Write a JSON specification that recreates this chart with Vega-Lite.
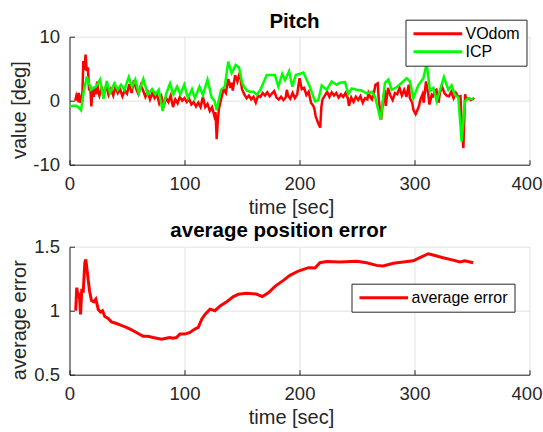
{
"$schema": "https://vega.github.io/schema/vega-lite/v6.json",
"background": "white",
"padding": {"left": 9.5, "top": 11.7, "right": 5, "bottom": 0},
"spacing": 3,
"resolve": {"scale": {"color": "independent"}, "legend": {"color": "independent"}},
"config": {
  "font": "Liberation Sans",
  "view": {"stroke": null},
  "axis": {
    "domainColor": "#262626", "domainWidth": 1,
    "tickColor": "#262626", "tickSize": -5, "tickWidth": 1,
    "labelFont": "Liberation Sans", "labelFontSize": 18.5, "labelColor": "#262626", "labelPadding": 15, "labelFlush": false,
    "titleFont": "Liberation Sans", "titleFontSize": 20, "titleColor": "#262626", "titleFontWeight": "normal",
    "gridColor": "#e2e2e2", "gridWidth": 1
  },
  "legend": {
    "labelFont": "Liberation Sans", "labelFontSize": 16, "labelColor": "#000000",
    "strokeColor": "#262626", "fillColor": "#ffffff", "padding": 6, "rowPadding": 2,
    "symbolType": "M-4,0H4", "symbolSize": 148, "symbolStrokeWidth": 3, "symbolOffset": 18.3, "labelOffset": 19.7, "cornerRadius": 0
  },
  "title": {"font": "Liberation Sans", "fontSize": 20.5, "fontWeight": "bold", "color": "#000000", "frame": "group", "anchor": "middle", "baseline": "alphabetic"}
},
"datasets": {
"pitch": [
{"t":5,"v":0.0,"s":"VOdom"},{"t":6,"v":0.8,"s":"VOdom"},{"t":7,"v":0.3,"s":"VOdom"},{"t":8,"v":1.2,"s":"VOdom"},{"t":9,"v":-0.3,"s":"VOdom"},{"t":10,"v":0.4,"s":"VOdom"},{"t":11,"v":-0.2,"s":"VOdom"},{"t":12,"v":6.2,"s":"VOdom"},{"t":13,"v":4.8,"s":"VOdom"},{"t":14,"v":7.2,"s":"VOdom"},{"t":15,"v":4.6,"s":"VOdom"},{"t":16,"v":5.2,"s":"VOdom"},{"t":17,"v":1.6,"s":"VOdom"},{"t":18,"v":2.4,"s":"VOdom"},{"t":19,"v":-0.9,"s":"VOdom"},{"t":20,"v":1.8,"s":"VOdom"},{"t":21,"v":0.6,"s":"VOdom"},{"t":22,"v":2.2,"s":"VOdom"},{"t":23,"v":1.0,"s":"VOdom"},{"t":24,"v":3.0,"s":"VOdom"},{"t":25,"v":1.4,"s":"VOdom"},{"t":26,"v":0.8,"s":"VOdom"},{"t":28,"v":2.0,"s":"VOdom"},{"t":30,"v":1.0,"s":"VOdom"},{"t":32,"v":2.4,"s":"VOdom"},{"t":34,"v":0.9,"s":"VOdom"},{"t":36,"v":1.8,"s":"VOdom"},{"t":38,"v":0.8,"s":"VOdom"},{"t":40,"v":2.2,"s":"VOdom"},{"t":42,"v":1.2,"s":"VOdom"},{"t":44,"v":1.8,"s":"VOdom"},{"t":46,"v":0.7,"s":"VOdom"},{"t":48,"v":1.6,"s":"VOdom"},{"t":50,"v":1.1,"s":"VOdom"},{"t":52,"v":2.6,"s":"VOdom"},{"t":54,"v":1.2,"s":"VOdom"},{"t":56,"v":3.2,"s":"VOdom"},{"t":58,"v":1.8,"s":"VOdom"},{"t":60,"v":1.0,"s":"VOdom"},{"t":62,"v":2.4,"s":"VOdom"},{"t":64,"v":1.6,"s":"VOdom"},{"t":66,"v":0.6,"s":"VOdom"},{"t":68,"v":1.4,"s":"VOdom"},{"t":70,"v":0.2,"s":"VOdom"},{"t":72,"v":1.2,"s":"VOdom"},{"t":74,"v":0.4,"s":"VOdom"},{"t":76,"v":1.0,"s":"VOdom"},{"t":78,"v":-0.4,"s":"VOdom"},{"t":80,"v":0.6,"s":"VOdom"},{"t":82,"v":-0.8,"s":"VOdom"},{"t":84,"v":0.4,"s":"VOdom"},{"t":86,"v":-0.2,"s":"VOdom"},{"t":88,"v":0.8,"s":"VOdom"},{"t":90,"v":-1.0,"s":"VOdom"},{"t":92,"v":0.2,"s":"VOdom"},{"t":94,"v":-0.4,"s":"VOdom"},{"t":96,"v":0.6,"s":"VOdom"},{"t":98,"v":0.0,"s":"VOdom"},{"t":100,"v":0.4,"s":"VOdom"},{"t":102,"v":-0.2,"s":"VOdom"},{"t":104,"v":0.3,"s":"VOdom"},{"t":106,"v":-0.6,"s":"VOdom"},{"t":108,"v":-0.2,"s":"VOdom"},{"t":110,"v":-0.9,"s":"VOdom"},{"t":112,"v":-0.3,"s":"VOdom"},{"t":114,"v":-1.0,"s":"VOdom"},{"t":116,"v":0.6,"s":"VOdom"},{"t":118,"v":-1.0,"s":"VOdom"},{"t":120,"v":-0.5,"s":"VOdom"},{"t":122,"v":-1.6,"s":"VOdom"},{"t":124,"v":-1.0,"s":"VOdom"},{"t":126,"v":-2.4,"s":"VOdom"},{"t":127,"v":-1.8,"s":"VOdom"},{"t":128,"v":-6.0,"s":"VOdom"},{"t":129,"v":-3.0,"s":"VOdom"},{"t":130,"v":-1.2,"s":"VOdom"},{"t":132,"v":0.4,"s":"VOdom"},{"t":134,"v":1.8,"s":"VOdom"},{"t":136,"v":1.2,"s":"VOdom"},{"t":138,"v":3.4,"s":"VOdom"},{"t":140,"v":2.0,"s":"VOdom"},{"t":141,"v":2.8,"s":"VOdom"},{"t":142,"v":1.6,"s":"VOdom"},{"t":144,"v":4.0,"s":"VOdom"},{"t":146,"v":3.0,"s":"VOdom"},{"t":148,"v":4.4,"s":"VOdom"},{"t":150,"v":1.8,"s":"VOdom"},{"t":152,"v":1.0,"s":"VOdom"},{"t":154,"v":0.4,"s":"VOdom"},{"t":156,"v":0.8,"s":"VOdom"},{"t":158,"v":0.2,"s":"VOdom"},{"t":160,"v":0.6,"s":"VOdom"},{"t":162,"v":-0.3,"s":"VOdom"},{"t":164,"v":0.8,"s":"VOdom"},{"t":166,"v":0.6,"s":"VOdom"},{"t":168,"v":1.2,"s":"VOdom"},{"t":170,"v":0.8,"s":"VOdom"},{"t":172,"v":1.3,"s":"VOdom"},{"t":174,"v":0.7,"s":"VOdom"},{"t":176,"v":1.1,"s":"VOdom"},{"t":178,"v":1.5,"s":"VOdom"},{"t":180,"v":0.5,"s":"VOdom"},{"t":182,"v":0.2,"s":"VOdom"},{"t":184,"v":0.6,"s":"VOdom"},{"t":186,"v":0.1,"s":"VOdom"},{"t":188,"v":0.5,"s":"VOdom"},{"t":189,"v":1.7,"s":"VOdom"},{"t":190,"v":0.8,"s":"VOdom"},{"t":192,"v":0.3,"s":"VOdom"},{"t":194,"v":1.2,"s":"VOdom"},{"t":196,"v":0.4,"s":"VOdom"},{"t":198,"v":1.0,"s":"VOdom"},{"t":200,"v":3.5,"s":"VOdom"},{"t":202,"v":1.8,"s":"VOdom"},{"t":204,"v":2.0,"s":"VOdom"},{"t":206,"v":0.9,"s":"VOdom"},{"t":208,"v":1.4,"s":"VOdom"},{"t":210,"v":-0.3,"s":"VOdom"},{"t":212,"v":-0.8,"s":"VOdom"},{"t":213,"v":-1.3,"s":"VOdom"},{"t":214,"v":-2.4,"s":"VOdom"},{"t":216,"v":-3.4,"s":"VOdom"},{"t":218,"v":-4.2,"s":"VOdom"},{"t":219,"v":-1.0,"s":"VOdom"},{"t":220,"v":0.2,"s":"VOdom"},{"t":222,"v":0.8,"s":"VOdom"},{"t":224,"v":1.4,"s":"VOdom"},{"t":226,"v":0.6,"s":"VOdom"},{"t":228,"v":1.3,"s":"VOdom"},{"t":230,"v":0.8,"s":"VOdom"},{"t":232,"v":1.2,"s":"VOdom"},{"t":234,"v":0.5,"s":"VOdom"},{"t":236,"v":1.0,"s":"VOdom"},{"t":238,"v":0.6,"s":"VOdom"},{"t":240,"v":1.2,"s":"VOdom"},{"t":242,"v":0.4,"s":"VOdom"},{"t":243,"v":-0.8,"s":"VOdom"},{"t":245,"v":0.5,"s":"VOdom"},{"t":247,"v":-0.2,"s":"VOdom"},{"t":249,"v":0.6,"s":"VOdom"},{"t":251,"v":0.1,"s":"VOdom"},{"t":253,"v":0.7,"s":"VOdom"},{"t":255,"v":-0.3,"s":"VOdom"},{"t":257,"v":0.4,"s":"VOdom"},{"t":259,"v":0.2,"s":"VOdom"},{"t":260,"v":1.2,"s":"VOdom"},{"t":262,"v":0.4,"s":"VOdom"},{"t":263,"v":0.2,"s":"VOdom"},{"t":265,"v":1.5,"s":"VOdom"},{"t":266,"v":2.5,"s":"VOdom"},{"t":268,"v":2.7,"s":"VOdom"},{"t":269,"v":0.0,"s":"VOdom"},{"t":271,"v":-3.0,"s":"VOdom"},{"t":272,"v":-1.0,"s":"VOdom"},{"t":274,"v":1.7,"s":"VOdom"},{"t":275,"v":-0.8,"s":"VOdom"},{"t":277,"v":2.0,"s":"VOdom"},{"t":279,"v":0.8,"s":"VOdom"},{"t":281,"v":0.1,"s":"VOdom"},{"t":283,"v":1.2,"s":"VOdom"},{"t":285,"v":1.0,"s":"VOdom"},{"t":287,"v":2.0,"s":"VOdom"},{"t":289,"v":0.8,"s":"VOdom"},{"t":291,"v":1.7,"s":"VOdom"},{"t":293,"v":0.6,"s":"VOdom"},{"t":295,"v":2.5,"s":"VOdom"},{"t":296,"v":0.4,"s":"VOdom"},{"t":298,"v":-0.3,"s":"VOdom"},{"t":299,"v":-1.4,"s":"VOdom"},{"t":301,"v":-2.1,"s":"VOdom"},{"t":302,"v":-1.7,"s":"VOdom"},{"t":304,"v":-0.8,"s":"VOdom"},{"t":305,"v":0.1,"s":"VOdom"},{"t":307,"v":1.0,"s":"VOdom"},{"t":308,"v":-0.3,"s":"VOdom"},{"t":310,"v":3.0,"s":"VOdom"},{"t":312,"v":1.0,"s":"VOdom"},{"t":313,"v":-0.6,"s":"VOdom"},{"t":315,"v":0.9,"s":"VOdom"},{"t":316,"v":0.7,"s":"VOdom"},{"t":318,"v":1.6,"s":"VOdom"},{"t":319,"v":1.7,"s":"VOdom"},{"t":321,"v":-0.3,"s":"VOdom"},{"t":322,"v":1.2,"s":"VOdom"},{"t":324,"v":2.2,"s":"VOdom"},{"t":326,"v":1.2,"s":"VOdom"},{"t":328,"v":0.8,"s":"VOdom"},{"t":330,"v":0.7,"s":"VOdom"},{"t":332,"v":1.4,"s":"VOdom"},{"t":334,"v":0.4,"s":"VOdom"},{"t":336,"v":1.2,"s":"VOdom"},{"t":338,"v":0.6,"s":"VOdom"},{"t":340,"v":0.7,"s":"VOdom"},{"t":341,"v":-3.5,"s":"VOdom"},{"t":342.5,"v":-7.4,"s":"VOdom"},{"t":344,"v":1.0,"s":"VOdom"},{"t":345,"v":0.2,"s":"VOdom"},{"t":347,"v":0.4,"s":"VOdom"},{"t":349,"v":0.1,"s":"VOdom"},{"t":351,"v":0.3,"s":"VOdom"},{"t":352,"v":0.2,"s":"VOdom"},
{"t":0,"v":-0.9,"s":"ICP"},{"t":3,"v":-0.8,"s":"ICP"},{"t":6,"v":-0.8,"s":"ICP"},{"t":8,"v":-1.1,"s":"ICP"},{"t":10,"v":-1.5,"s":"ICP"},{"t":12,"v":1.0,"s":"ICP"},{"t":15,"v":3.8,"s":"ICP"},{"t":18.7,"v":1.7,"s":"ICP"},{"t":21,"v":2.0,"s":"ICP"},{"t":23,"v":2.2,"s":"ICP"},{"t":26.5,"v":3.3,"s":"ICP"},{"t":29.5,"v":0.3,"s":"ICP"},{"t":32.3,"v":3.1,"s":"ICP"},{"t":35.2,"v":1.2,"s":"ICP"},{"t":39,"v":2.7,"s":"ICP"},{"t":41.9,"v":1.7,"s":"ICP"},{"t":44.8,"v":2.5,"s":"ICP"},{"t":47.7,"v":1.7,"s":"ICP"},{"t":51.5,"v":3.7,"s":"ICP"},{"t":54.4,"v":2.2,"s":"ICP"},{"t":57.2,"v":3.3,"s":"ICP"},{"t":60.2,"v":1.2,"s":"ICP"},{"t":64.2,"v":3.4,"s":"ICP"},{"t":68,"v":1.0,"s":"ICP"},{"t":71.8,"v":1.8,"s":"ICP"},{"t":74.7,"v":1.0,"s":"ICP"},{"t":77.6,"v":1.7,"s":"ICP"},{"t":81,"v":-1.6,"s":"ICP"},{"t":83.9,"v":1.0,"s":"ICP"},{"t":87.4,"v":2.7,"s":"ICP"},{"t":90.3,"v":1.0,"s":"ICP"},{"t":93.5,"v":2.2,"s":"ICP"},{"t":96.4,"v":1.0,"s":"ICP"},{"t":99.8,"v":2.5,"s":"ICP"},{"t":103,"v":0.4,"s":"ICP"},{"t":106.5,"v":1.8,"s":"ICP"},{"t":109,"v":0.4,"s":"ICP"},{"t":113,"v":2.2,"s":"ICP"},{"t":116,"v":0.9,"s":"ICP"},{"t":120,"v":3.3,"s":"ICP"},{"t":123.6,"v":0.5,"s":"ICP"},{"t":126,"v":0.0,"s":"ICP"},{"t":128,"v":-1.5,"s":"ICP"},{"t":131.7,"v":1.7,"s":"ICP"},{"t":135,"v":2.2,"s":"ICP"},{"t":138,"v":6.1,"s":"ICP"},{"t":141,"v":4.3,"s":"ICP"},{"t":144.5,"v":5.6,"s":"ICP"},{"t":147.4,"v":5.2,"s":"ICP"},{"t":150.3,"v":2.7,"s":"ICP"},{"t":154,"v":1.6,"s":"ICP"},{"t":157,"v":1.4,"s":"ICP"},{"t":160,"v":1.4,"s":"ICP"},{"t":163,"v":0.9,"s":"ICP"},{"t":166,"v":1.7,"s":"ICP"},{"t":171.5,"v":4.0,"s":"ICP"},{"t":175,"v":4.0,"s":"ICP"},{"t":178.7,"v":4.0,"s":"ICP"},{"t":181.6,"v":2.2,"s":"ICP"},{"t":185,"v":4.2,"s":"ICP"},{"t":187.4,"v":3.2,"s":"ICP"},{"t":190.9,"v":4.6,"s":"ICP"},{"t":193.8,"v":2.2,"s":"ICP"},{"t":196.7,"v":4.0,"s":"ICP"},{"t":200.4,"v":4.2,"s":"ICP"},{"t":203.4,"v":4.4,"s":"ICP"},{"t":209,"v":2.2,"s":"ICP"},{"t":213.5,"v":-0.1,"s":"ICP"},{"t":216.4,"v":0.1,"s":"ICP"},{"t":219.3,"v":2.4,"s":"ICP"},{"t":223.6,"v":1.7,"s":"ICP"},{"t":228,"v":3.0,"s":"ICP"},{"t":232.3,"v":2.5,"s":"ICP"},{"t":235.2,"v":2.8,"s":"ICP"},{"t":239.6,"v":2.9,"s":"ICP"},{"t":242.4,"v":1.05,"s":"ICP"},{"t":245.4,"v":1.9,"s":"ICP"},{"t":249.7,"v":1.7,"s":"ICP"},{"t":254,"v":1.6,"s":"ICP"},{"t":258.4,"v":1.15,"s":"ICP"},{"t":262.8,"v":1.4,"s":"ICP"},{"t":265.7,"v":0.6,"s":"ICP"},{"t":270.6,"v":-3.0,"s":"ICP"},{"t":274.3,"v":2.8,"s":"ICP"},{"t":277.2,"v":3.3,"s":"ICP"},{"t":280.2,"v":1.7,"s":"ICP"},{"t":284.5,"v":2.1,"s":"ICP"},{"t":288.9,"v":2.8,"s":"ICP"},{"t":293.2,"v":3.5,"s":"ICP"},{"t":296.1,"v":3.0,"s":"ICP"},{"t":299,"v":0.4,"s":"ICP"},{"t":303.3,"v":2.4,"s":"ICP"},{"t":307.7,"v":3.5,"s":"ICP"},{"t":310.6,"v":5.8,"s":"ICP"},{"t":313.5,"v":1.5,"s":"ICP"},{"t":316.4,"v":2.0,"s":"ICP"},{"t":319.3,"v":-0.1,"s":"ICP"},{"t":322.2,"v":1.7,"s":"ICP"},{"t":325.6,"v":3.7,"s":"ICP"},{"t":329.4,"v":1.7,"s":"ICP"},{"t":332.3,"v":2.4,"s":"ICP"},{"t":335.2,"v":0.9,"s":"ICP"},{"t":338.1,"v":0.5,"s":"ICP"},{"t":341,"v":-6.4,"s":"ICP"},{"t":343.9,"v":-0.1,"s":"ICP"},{"t":346.8,"v":0.4,"s":"ICP"},{"t":351.1,"v":0.2,"s":"ICP"}
],
"err": [
{"t":5.4,"e":1.0},{"t":6.3,"e":1.18},{"t":7.7,"e":1.10},{"t":8.5,"e":1.14},{"t":9.6,"e":0.97},{"t":10.7,"e":1.17},{"t":11.9,"e":1.14},{"t":13.3,"e":1.375},{"t":14.2,"e":1.40},{"t":16.2,"e":1.245},{"t":17.5,"e":1.15},{"t":19.1,"e":1.08},{"t":21.2,"e":1.07},{"t":22.9,"e":1.09},{"t":25,"e":1.01},{"t":27,"e":0.99},{"t":28.7,"e":1.0},{"t":30.7,"e":0.955},{"t":33.6,"e":0.94},{"t":36.5,"e":0.913},{"t":40.9,"e":0.90},{"t":45,"e":0.885},{"t":49.5,"e":0.87},{"t":54,"e":0.85},{"t":58.2,"e":0.83},{"t":64,"e":0.80},{"t":68,"e":0.80},{"t":72.7,"e":0.79},{"t":76,"e":0.785},{"t":80,"e":0.778},{"t":84,"e":0.785},{"t":87.2,"e":0.79},{"t":90,"e":0.785},{"t":93,"e":0.79},{"t":96,"e":0.817},{"t":100.4,"e":0.817},{"t":104.7,"e":0.83},{"t":109,"e":0.856},{"t":112,"e":0.87},{"t":115,"e":0.934},{"t":118,"e":0.973},{"t":122.2,"e":1.012},{"t":126.5,"e":1.0},{"t":131,"e":1.037},{"t":136.7,"e":1.07},{"t":142.5,"e":1.11},{"t":146.8,"e":1.128},{"t":153.7,"e":1.136},{"t":162.4,"e":1.13},{"t":167.6,"e":1.11},{"t":172.9,"e":1.14},{"t":178.7,"e":1.19},{"t":186,"e":1.237},{"t":191.7,"e":1.276},{"t":199,"e":1.31},{"t":207.7,"e":1.336},{"t":213.5,"e":1.333},{"t":217.8,"e":1.375},{"t":223.6,"e":1.385},{"t":235.2,"e":1.38},{"t":249.7,"e":1.387},{"t":258.4,"e":1.375},{"t":267,"e":1.354},{"t":272.8,"e":1.35},{"t":281.5,"e":1.37},{"t":290.2,"e":1.38},{"t":298.9,"e":1.39},{"t":304.7,"e":1.414},{"t":311.9,"e":1.445},{"t":316.2,"e":1.435},{"t":324.9,"e":1.414},{"t":333.6,"e":1.395},{"t":339.4,"e":1.38},{"t":343.8,"e":1.39},{"t":351,"e":1.375}
]
},
"vconcat": [
{
  "width": 460, "height": 128,
  "title": {"text": "Pitch", "dx": -5, "offset": -13},
  "data": {"name": "pitch"},
  "encoding": {
    "x": {"field": "t", "type": "quantitative", "scale": {"domain": [0, 400], "nice": false},
      "axis": {"values": [0, 100, 200, 300, 400], "labelOffset": {"condition": {"test": "datum.value == 400", "value": -3}, "value": 0}, "title": "time [sec]", "titleX": 221.5, "titleY": 49, "titleBaseline": "alphabetic", "titleAlign": "center"}},
    "y": {"field": "v", "type": "quantitative", "scale": {"domain": [-10, 10], "nice": false},
      "axis": {"values": [-10, 0, 10], "labelExpr": "toString(datum.value)", "title": "value [deg]", "titleX": -44, "titleY": 73, "titleBaseline": "alphabetic", "titleAlign": "center", "titleAngle": 270}},
    "color": {"field": "s", "type": "nominal", "scale": {"domain": ["VOdom", "ICP"], "range": ["#ff0000", "#00ff00"]},
      "legend": {"title": null, "orient": "none", "legendX": 336, "legendY": -17}}
  },
  "layer": [
    {"transform": [{"filter": "datum.s == 'VOdom'"}], "mark": {"type": "line", "strokeWidth": 2.5}},
    {"transform": [{"filter": "datum.s == 'ICP'"}], "mark": {"type": "line", "strokeWidth": 2.5}}
  ]
},
{
  "width": 460, "height": 128,
  "title": {"text": "average position error", "dx": -21, "offset": -4},
  "data": {"name": "err"},
  "mark": {"type": "line", "strokeWidth": 3},
  "encoding": {
    "x": {"field": "t", "type": "quantitative", "scale": {"domain": [0, 400], "nice": false},
      "axis": {"values": [0, 100, 200, 300, 400], "labelOffset": {"condition": {"test": "datum.value == 400", "value": -3}, "value": 0}, "title": "time [sec]", "titleX": 221.5, "titleY": 49, "titleBaseline": "alphabetic", "titleAlign": "center"}},
    "y": {"field": "e", "type": "quantitative", "scale": {"domain": [0.5, 1.5], "nice": false},
      "axis": {"values": [0.5, 1, 1.5], "labelExpr": "toString(datum.value)", "title": "average error", "titleX": -44, "titleY": 73, "titleBaseline": "alphabetic", "titleAlign": "center", "titleAngle": 270}},
    "color": {"datum": "average error", "type": "nominal", "scale": {"domain": ["average error"], "range": ["#ff0000"]},
      "legend": {"title": null, "orient": "none", "legendX": 282, "legendY": 37}}
  }
}
]
}
